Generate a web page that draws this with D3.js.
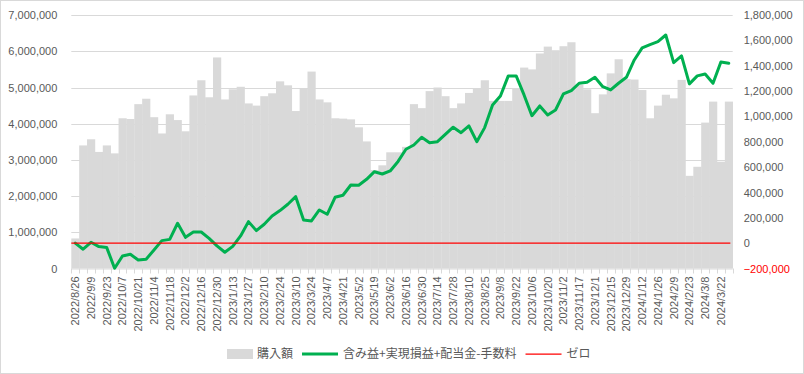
<!DOCTYPE html>
<html>
<head>
<meta charset="utf-8">
<script src="https://cdn.jsdelivr.net/npm/d3@7"></script>
<style>
  body { margin: 0; background: #fff; }
  svg { display: block; font-family: "Liberation Sans", Arial, sans-serif; }
</style>
</head>
<body>
<svg id="chart" width="804" height="374"></svg>
<script>
// weekly dates (every second one is shown on the axis)
const dates = [
  "2022/8/26", "2022/9/2", "2022/9/9", "2022/9/16", "2022/9/23", "2022/9/30",
  "2022/10/7", "2022/10/14", "2022/10/21", "2022/10/28", "2022/11/4", "2022/11/11",
  "2022/11/18", "2022/11/25", "2022/12/2", "2022/12/9", "2022/12/16", "2022/12/23",
  "2022/12/30", "2023/1/6", "2023/1/13", "2023/1/20", "2023/1/27", "2023/2/3",
  "2023/2/10", "2023/2/17", "2023/2/24", "2023/3/3", "2023/3/10", "2023/3/17",
  "2023/3/24", "2023/3/31", "2023/4/7", "2023/4/14", "2023/4/21", "2023/4/28",
  "2023/5/2", "2023/5/12", "2023/5/19", "2023/5/26", "2023/6/2", "2023/6/9",
  "2023/6/16", "2023/6/23", "2023/6/30", "2023/7/7", "2023/7/14", "2023/7/21",
  "2023/7/28", "2023/8/4", "2023/8/10", "2023/8/18", "2023/8/25", "2023/9/1",
  "2023/9/8", "2023/9/15", "2023/9/22", "2023/9/29", "2023/10/6", "2023/10/13",
  "2023/10/20", "2023/10/27", "2023/11/2", "2023/11/10", "2023/11/17", "2023/11/24",
  "2023/12/1", "2023/12/8", "2023/12/15", "2023/12/22", "2023/12/29", "2024/1/5",
  "2024/1/12", "2024/1/19", "2024/1/26", "2024/2/2", "2024/2/9", "2024/2/16",
  "2024/2/23", "2024/3/1", "2024/3/8", "2024/3/15", "2024/3/22", "2024/3/29"
];

// 購入額 (left axis)
const purchase = [
  830000, 3400000, 3570000, 3220000, 3400000, 3180000, 4150000, 4130000, 4540000, 4690000,
  4180000, 3730000, 4260000, 4100000, 3790000, 4780000, 5200000, 4730000, 5830000, 4670000,
  4950000, 5020000, 4560000, 4500000, 4760000, 4840000, 5170000, 5060000, 4350000, 4980000,
  5440000, 4670000, 4590000, 4150000, 4140000, 4120000, 3900000, 3510000, 2720000, 2850000,
  3210000, 3210000, 3360000, 4540000, 4430000, 4900000, 5000000, 4760000, 4430000, 4560000,
  4850000, 4980000, 5200000, 4630000, 4630000, 4630000, 4980000, 5550000, 5500000, 5940000,
  6130000, 6030000, 6140000, 6250000, 5070000, 4950000, 4290000, 4810000, 5390000, 5780000,
  5230000, 5220000, 4930000, 4150000, 4500000, 4800000, 4700000, 5210000, 2560000, 2810000,
  4030000, 4610000, 2950000, 4610000
];

// 含み益+実現損益+配当金-手数料 (right axis)
const profit = [
  0, -48000, 7000, -27000, -35000, -198000, -101000, -88000, -133000, -127000,
  -54000, 20000, 30000, 157000, 46000, 88000, 88000, 38000, -22000, -72000,
  -25000, 57000, 170000, 99000, 149000, 215000, 257000, 307000, 367000, 183000,
  175000, 262000, 228000, 362000, 378000, 459000, 457000, 504000, 564000, 546000,
  570000, 645000, 741000, 775000, 836000, 793000, 801000, 859000, 915000, 872000,
  925000, 801000, 912000, 1091000, 1162000, 1320000, 1320000, 1170000, 1006000, 1083000,
  1012000, 1051000, 1178000, 1204000, 1262000, 1270000, 1309000, 1235000, 1209000, 1262000,
  1309000, 1446000, 1541000, 1567000, 1590000, 1643000, 1425000, 1478000, 1257000, 1320000,
  1335000, 1262000, 1430000, 1420000
];

const leftTicks = [0, 1000000, 2000000, 3000000, 4000000, 5000000, 6000000, 7000000];
const rightTicks = [-200000, 0, 200000, 400000, 600000, 800000, 1000000, 1200000, 1400000, 1600000, 1800000];

const legendItems = ["購入額", "含み益+実現損益+配当金-手数料", "ゼロ"];

const svg = d3.select("#chart");
const W = 804, H = 374;
const plot = { left: 71.3, right: 732.7, top: 15.1, bottom: 268.5 };
const textColor = "#595959";
const gridColor = "#d9d9d9";

svg.append("rect")
  .attr("x", 0.5).attr("y", 0.5)
  .attr("width", W - 1).attr("height", H - 1)
  .attr("fill", "#fff").attr("stroke", gridColor);

const x = d3.scaleBand().domain(dates).range([plot.left, plot.right]).padding(0);
const yL = d3.scaleLinear().domain([0, 7000000]).range([plot.bottom, plot.top]);
const yR = d3.scaleLinear().domain([-200000, 1800000]).range([plot.bottom, plot.top]);

// gridlines
svg.append("g")
  .selectAll("line")
  .data(leftTicks.slice(1))
  .join("line")
  .attr("x1", plot.left).attr("x2", plot.right)
  .attr("y1", d => Math.round(yL(d)) + 0.5).attr("y2", d => Math.round(yL(d)) + 0.5)
  .attr("stroke", gridColor);

// bars
svg.append("g")
  .selectAll("rect")
  .data(purchase)
  .join("rect")
  .attr("x", (d, i) => x(dates[i]))
  .attr("width", x.bandwidth() + 0.3)
  .attr("y", d => yL(d))
  .attr("height", d => yL(0) - yL(d))
  .attr("fill", "#d9d9d9");

// category axis line and tick marks
const xAxis = svg.append("g");
xAxis.append("line")
  .attr("x1", plot.left).attr("x2", plot.right)
  .attr("y1", plot.bottom + 0.5).attr("y2", plot.bottom + 0.5)
  .attr("stroke", gridColor);
xAxis.selectAll("line.tick")
  .data(dates.concat([null]))
  .join("line")
  .attr("class", "tick")
  .attr("x1", (d, i) => Math.round(plot.left + i * x.bandwidth()) + 0.5)
  .attr("x2", (d, i) => Math.round(plot.left + i * x.bandwidth()) + 0.5)
  .attr("y1", plot.bottom).attr("y2", plot.bottom + 5)
  .attr("stroke", gridColor);

// category labels
xAxis.selectAll("text")
  .data(dates.filter((d, i) => i % 2 === 0))
  .join("text")
  .attr("transform", d => `translate(${x(d) + x.bandwidth() / 2},${plot.bottom + 8}) rotate(-90)`)
  .attr("dy", "0.35em")
  .attr("text-anchor", "end")
  .attr("font-size", 11)
  .attr("fill", textColor)
  .text(d => d);

// left axis
svg.append("g")
  .attr("transform", `translate(${plot.left},0)`)
  .call(d3.axisLeft(yL).tickValues(leftTicks).tickFormat(d3.format(",")).tickSize(0).tickPadding(14))
  .call(g => g.select(".domain").remove())
  .call(g => g.selectAll("text")
    .attr("font-size", 11)
    .attr("font-family", "Liberation Sans, Arial, sans-serif")
    .attr("fill", textColor));

// right axis
svg.append("g")
  .attr("transform", `translate(${plot.right},0)`)
  .call(d3.axisRight(yR).tickValues(rightTicks).tickFormat(d3.format(",")).tickSize(0).tickPadding(11))
  .call(g => g.select(".domain").remove())
  .call(g => g.selectAll("text")
    .attr("font-size", 11)
    .attr("font-family", "Liberation Sans, Arial, sans-serif")
    .attr("fill", d => d < 0 ? "#ff0000" : textColor));

// profit line
const line = d3.line()
  .x((d, i) => x(dates[i]) + x.bandwidth() / 2)
  .y(d => yR(d));

svg.append("path")
  .datum(profit)
  .attr("d", line)
  .attr("fill", "none")
  .attr("stroke", "#00b050")
  .attr("stroke-width", 3)
  .attr("stroke-linejoin", "round")
  .attr("stroke-linecap", "round");

// zero line
svg.append("line")
  .attr("x1", plot.left)
  .attr("x2", x(dates[dates.length - 1]) + x.bandwidth() * 0.7)
  .attr("y1", yR(0)).attr("y2", yR(0))
  .attr("stroke", "#ff0000")
  .attr("stroke-width", 1.25);

// legend
const legend = svg.append("g")
  .attr("font-family", "'Noto Sans CJK JP', sans-serif")
  .attr("font-size", 12)
  .attr("fill", textColor);

let lx = 227;
const ly = 354;
legendItems.forEach((label, i) => {
  if (i === 0) {
    legend.append("rect")
      .attr("x", lx).attr("y", ly - 5)
      .attr("width", 26).attr("height", 10)
      .attr("fill", "#d9d9d9");
    lx += 30;
  } else {
    legend.append("line")
      .attr("x1", lx).attr("x2", lx + 36)
      .attr("y1", ly).attr("y2", ly)
      .attr("stroke", i === 1 ? "#00b050" : "#ff0000")
      .attr("stroke-width", i === 1 ? 3 : 1.25);
    lx += 41;
  }
  const t = legend.append("text")
    .attr("x", lx).attr("y", ly)
    .attr("dy", "0.35em")
    .text(label);
  lx += t.node().getComputedTextLength() + 9;
});
</script>
</body>
</html>
